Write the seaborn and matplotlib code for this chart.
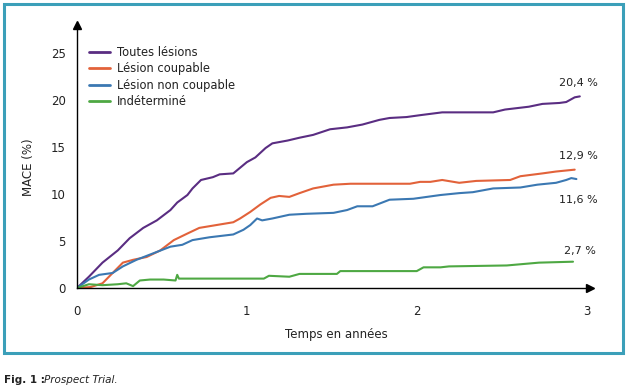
import numpy as np
import pandas as pd
import matplotlib
matplotlib.use("Agg")
import matplotlib.pyplot as plt
import seaborn as sns
from matplotlib.patches import Rectangle
from matplotlib.lines import Line2D

# ---- data ----
series_names = ["Toutes lésions", "Lésion coupable", "Lésion non coupable", "Indéterminé"]
series_colors = ["#5a2d82", "#e2623a", "#3b78b2", "#4ea843"]

t_all = [0, 0.07, 0.15, 0.24, 0.31, 0.39, 0.47, 0.55, 0.59, 0.65, 0.68, 0.73, 0.80, 0.84, 0.92,
         0.96, 1.0, 1.05, 1.11, 1.15, 1.24, 1.31, 1.39, 1.49, 1.59, 1.68, 1.78, 1.84, 1.94, 2.02,
         2.15, 2.25, 2.45, 2.52, 2.66, 2.74, 2.84, 2.88, 2.93, 2.96]
v_all = [0, 1.2, 2.7, 4.0, 5.3, 6.4, 7.2, 8.3, 9.1, 9.9, 10.6, 11.5, 11.8, 12.1, 12.2,
         12.8, 13.4, 13.9, 14.9, 15.4, 15.7, 16.0, 16.3, 16.9, 17.1, 17.4, 17.9, 18.1, 18.2, 18.4,
         18.7, 18.7, 18.7, 19.0, 19.3, 19.6, 19.7, 19.8, 20.3, 20.4]

t_coup = [0, 0.08, 0.15, 0.21, 0.27, 0.33, 0.41, 0.49, 0.57, 0.65, 0.72, 0.82, 0.92, 0.96, 1.02,
          1.08, 1.14, 1.19, 1.25, 1.31, 1.39, 1.51, 1.61, 1.74, 1.96, 2.02, 2.08, 2.15, 2.25, 2.35,
          2.55, 2.61, 2.74, 2.82, 2.93]
v_coup = [0, 0.1, 0.5, 1.6, 2.7, 3.0, 3.3, 4.0, 5.1, 5.8, 6.4, 6.7, 7.0, 7.4, 8.1,
          8.9, 9.6, 9.8, 9.7, 10.1, 10.6, 11.0, 11.1, 11.1, 11.1, 11.3, 11.3, 11.5, 11.2, 11.4,
          11.5, 11.9, 12.2, 12.4, 12.6]

t_noncoup = [0, 0.07, 0.13, 0.21, 0.27, 0.35, 0.45, 0.55, 0.62, 0.68, 0.78, 0.92, 0.98, 1.02,
             1.06, 1.09, 1.15, 1.25, 1.35, 1.51, 1.59, 1.65, 1.74, 1.84, 1.98, 2.14, 2.25, 2.33,
             2.45, 2.61, 2.71, 2.82, 2.88, 2.91, 2.94]
v_noncoup = [0, 0.9, 1.4, 1.6, 2.3, 3.0, 3.7, 4.4, 4.6, 5.1, 5.4, 5.7, 6.2, 6.7,
             7.4, 7.2, 7.4, 7.8, 7.9, 8.0, 8.3, 8.7, 8.7, 9.4, 9.5, 9.9, 10.1, 10.2,
             10.6, 10.7, 11.0, 11.2, 11.5, 11.7, 11.6]

t_indet = [0, 0.07, 0.15, 0.24, 0.29, 0.33, 0.37, 0.43, 0.51, 0.58, 0.59, 0.60, 0.65, 1.10,
           1.13, 1.25, 1.31, 1.53, 1.55, 2.0, 2.04, 2.14, 2.19, 2.53, 2.72, 2.92]
v_indet = [0, 0.4, 0.3, 0.4, 0.5, 0.2, 0.8, 0.9, 0.9, 0.8, 1.4, 1.0, 1.0, 1.0,
           1.3, 1.2, 1.5, 1.5, 1.8, 1.8, 2.2, 2.2, 2.3, 2.4, 2.7, 2.8]

end_labels = ["20,4 %", "12,9 %", "11,6 %", "2,7 %"]
x_ticks = [0, 1, 2, 3]
y_ticks = [0, 5, 10, 15, 20, 25]

frames = []
for name, t, v in zip(series_names, [t_all, t_coup, t_noncoup, t_indet],
                      [v_all, v_coup, v_noncoup, v_indet]):
    frames.append(pd.DataFrame({"t": t, "v": v, "serie": name}))
df = pd.concat(frames, ignore_index=True)

sns.set_style("white")
plt.rcParams['font.family'] = ['DejaVu Sans']

W, H = 627, 389
fig = plt.figure(figsize=(W / 100, H / 100), dpi=100)
ax_l, ax_r, ax_b, ax_t = 77, 590, 288, 25
ax = fig.add_axes([ax_l / W, (H - ax_b) / H, (ax_r - ax_l) / W, (ax_b - ax_t) / H])

sns.lineplot(data=df, x="t", y="v", hue="serie", hue_order=series_names,
             palette=series_colors, ax=ax, linewidth=1.5, estimator=None, sort=False,
             legend=False)

ax.set_xlim(0, 3.02)
ax.set_ylim(0, 28)
ax.set_xticks(x_ticks)
ax.set_xticklabels([str(x) for x in x_ticks])
ax.set_yticks(y_ticks)
ax.set_yticklabels([str(y) for y in y_ticks])
ax.tick_params(axis='both', length=0, labelsize=8.5, colors="#222222")
ax.tick_params(axis='x', pad=12)
ax.tick_params(axis='y', pad=8)
for s in ["top", "right"]:
    ax.spines[s].set_visible(False)
for s in ["bottom", "left"]:
    ax.spines[s].set_color("black")
    ax.spines[s].set_linewidth(1.0)

# arrow heads
ax.plot([1], [0], marker=">", color="black", markersize=6, transform=ax.transAxes, clip_on=False)
ax.plot([0], [1], marker="^", color="black", markersize=6, transform=ax.transAxes, clip_on=False)

ax.set_xlabel("Temps en années", fontsize=8.5, color="#222222")
ax.set_ylabel("MACE (%)", fontsize=8.5, color="#222222")
ax.xaxis.set_label_coords((336 - ax_l) / (ax_r - ax_l), (ax_b - 328) / (ax_b - ax_t))
ax.yaxis.set_label_coords((35 - ax_l) / (ax_r - ax_l), (ax_b - 167) / (ax_b - ax_t))

# legend (manual handles)
handles = [Line2D([0], [0], color=c, lw=2) for c in series_colors]
leg = ax.legend(handles, series_names, loc="upper left",
                bbox_to_anchor=((89 - ax_l) / (ax_r - ax_l), (ax_b - 46) / (ax_b - ax_t)),
                frameon=False, fontsize=8.3, handlelength=1.8, handletextpad=0.6,
                labelspacing=0.3, borderaxespad=0, borderpad=0)
for txt in leg.get_texts():
    txt.set_color("#222222")

# end labels
label_pos = [(2.95, 21.8), (2.95, 14.1), (2.95, 9.4), (2.96, 3.9)]
for (x, y), s in zip(label_pos, end_labels):
    ax.text(x, y, s, fontsize=8, color="#222222", ha="center", va="center")

# border
fig.patches.append(Rectangle((4 / W, (H - 353) / H), 619 / W, 349 / H, transform=fig.transFigure,
                             fill=False, edgecolor="#3b9fb9", linewidth=2.2))

# caption
fig.text(4 / W, (H - 380) / H, "Fig. 1 :", fontsize=7.5, fontweight="bold", va="center",
         color="#222222")
fig.text(44 / W, (H - 380) / H, "Prospect Trial.", fontsize=7.5, style="italic", va="center",
         color="#222222")

fig.savefig("out.png", dpi=100)
